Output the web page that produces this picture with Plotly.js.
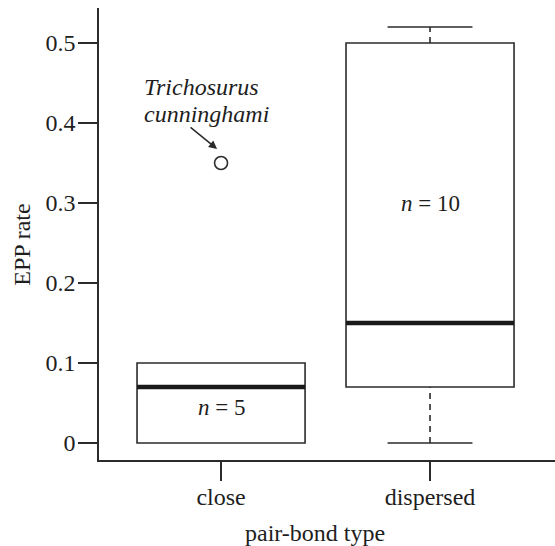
<!DOCTYPE html>
<html>
<head>
<meta charset="utf-8">
<script src="https://cdn.plot.ly/plotly-3.0.1.min.js"></script>
<style>html,body{margin:0;padding:0;background:#fff;}#chart{width:555px;height:546px;}</style>
</head>
<body>
<div id="chart"></div>
<script>
// ---- data ----
const categories = ['close', 'dispersed'];
const q1 = [0, 0.07];
const medians = [0.07, 0.15];
const q3 = [0.1, 0.5];
const lowerWhisker = [0, 0];
const upperWhisker = [0.1, 0.52];
const sampleSizes = [5, 10];
const outlierCategory = ['close'];
const outlierValues = [0.35];
const outlierName = ['Trichosurus', 'cunninghami'];
const yTicks = [0, 0.1, 0.2, 0.3, 0.4, 0.5];
const yTickText = ['0', '0.1', '0.2', '0.3', '0.4', '0.5'];

// ---- styling ----
const FONT = 'Liberation Serif, Times New Roman, serif';
const INK = '#2b2b2b';
const TXT = '#1e1e1e';
const boxW = 0.804;
const capHalf = 0.203;
const xpos = categories.map((c, i) => i + 1);

const traces = [];
categories.forEach((c, i) => {
  traces.push({
    type: 'box', x: [xpos[i]], q1: [q1[i]], median: [medians[i]], q3: [q3[i]],
    lowerfence: [q1[i]], upperfence: [q3[i]], width: boxW,
    fillcolor: 'rgba(0,0,0,0)', line: {color: INK, width: 1.6},
    boxpoints: false, hoverinfo: 'skip', showlegend: false
  });
  traces.push({
    type: 'scatter', mode: 'lines', x: [xpos[i] - boxW / 2, xpos[i] + boxW / 2], y: [medians[i], medians[i]],
    line: {color: '#1a1a1a', width: 4.5}, hoverinfo: 'skip', showlegend: false
  });
  if (lowerWhisker[i] < q1[i]) {
    traces.push({type: 'scatter', mode: 'lines', x: [xpos[i], xpos[i]], y: [lowerWhisker[i], q1[i]],
      line: {color: INK, width: 1.6, dash: '6px,5px'}, hoverinfo: 'skip', showlegend: false});
    traces.push({type: 'scatter', mode: 'lines', x: [xpos[i] - capHalf, xpos[i] + capHalf], y: [lowerWhisker[i], lowerWhisker[i]],
      line: {color: INK, width: 1.6}, hoverinfo: 'skip', showlegend: false});
  }
  if (upperWhisker[i] > q3[i]) {
    traces.push({type: 'scatter', mode: 'lines', x: [xpos[i], xpos[i]], y: [q3[i], upperWhisker[i]],
      line: {color: INK, width: 1.6, dash: '6px,5px'}, hoverinfo: 'skip', showlegend: false});
    traces.push({type: 'scatter', mode: 'lines', x: [xpos[i] - capHalf, xpos[i] + capHalf], y: [upperWhisker[i], upperWhisker[i]],
      line: {color: INK, width: 1.6}, hoverinfo: 'skip', showlegend: false});
  }
});
traces.push({
  type: 'scatter', mode: 'markers',
  x: outlierCategory.map(c => categories.indexOf(c) + 1), y: outlierValues,
  marker: {symbol: 'circle-open', size: 13, color: INK, line: {width: 1.6, color: INK}},
  hoverinfo: 'skip', showlegend: false, cliponaxis: false
});

const annotations = [];
categories.forEach((c, i) => {
  const yLab = i === 0 ? 0.044 : 0.30;
  annotations.push({x: xpos[i], y: yLab, xref: 'x', yref: 'y', showarrow: false,
    text: '<i>n</i> = ' + sampleSizes[i], font: {family: FONT, size: 23, color: TXT}});
});
outlierName.forEach((w, k) => {
  annotations.push({x: 0.622, y: k === 0 ? 0.4445 : 0.4115, xref: 'x', yref: 'y', showarrow: false,
    xanchor: 'left', yanchor: 'middle', text: '<i>' + w + '</i>', font: {family: FONT, size: 24, color: TXT}});
});
annotations.push({x: 0.981, y: 0.3675, ax: 0.847, ay: 0.396, xref: 'x', yref: 'y', axref: 'x', ayref: 'y',
  text: '', showarrow: true, arrowhead: 2, arrowsize: 1.1, arrowwidth: 1.5, arrowcolor: INK});
annotations.push({x: -0.169, y: 0.476, xref: 'paper', yref: 'paper', xanchor: 'center', yanchor: 'middle',
  showarrow: false, textangle: -90, text: 'EPP rate', font: {family: FONT, size: 24, color: TXT}});
annotations.push({x: 0.474, y: -0.1615, xref: 'paper', yref: 'paper', xanchor: 'center', yanchor: 'middle',
  showarrow: false, text: 'pair-bond type', font: {family: FONT, size: 24, color: TXT}});

const layout = {
  width: 555, height: 546,
  margin: {l: 99, r: 0, t: 8, b: 86},
  paper_bgcolor: '#fff', plot_bgcolor: '#fff',
  showlegend: false,
  xaxis: {
    range: [0.416, 2.598], tickvals: xpos, ticktext: categories,
    showgrid: false, zeroline: false, showline: true, linecolor: INK, linewidth: 1.6,
    ticks: 'outside', ticklen: 19, tickwidth: 1.6, tickcolor: INK, ticklabelstandoff: -4,
    tickfont: {family: FONT, size: 24, color: TXT}, fixedrange: true
  },
  yaxis: {
    range: [-0.02125, 0.54375], tickvals: yTicks, ticktext: yTickText,
    showgrid: false, zeroline: false, showline: true, linecolor: INK, linewidth: 1.6,
    ticks: 'outside', ticklen: 19, tickwidth: 1.6, tickcolor: INK, ticklabelstandoff: -2,
    tickfont: {family: FONT, size: 24, color: TXT}, fixedrange: true
  },
  annotations: annotations
};

Plotly.newPlot('chart', traces, layout, {displayModeBar: false, staticPlot: true});
</script>
</body>
</html>
